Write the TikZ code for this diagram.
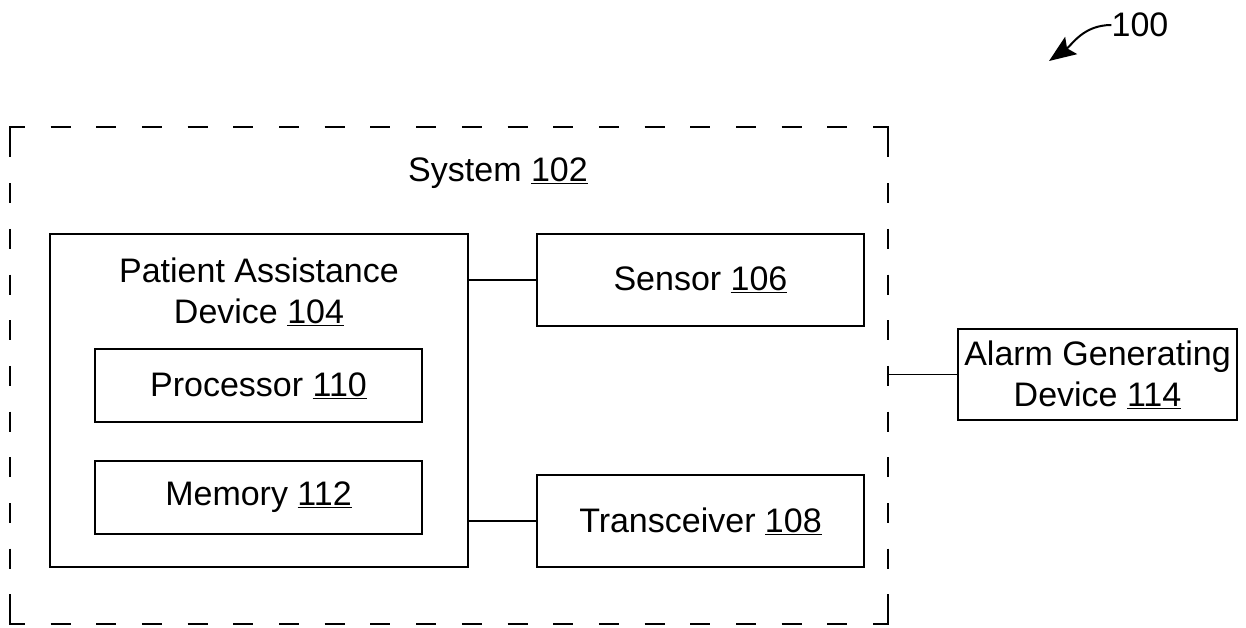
\documentclass[tikz,border=0pt]{standalone}
\usepackage{fontspec}
\setmainfont{Liberation Sans}
\usetikzlibrary{arrows.meta,positioning,calc}

\begin{document}
\begin{tikzpicture}[x=1pt,y=-1pt,
  every node/.style={font=\fontsize{34}{41}\selectfont, inner sep=0pt, align=center},
  blk/.style={draw, line width=1.5pt},
  sysline/.style={line width=2pt, dash pattern=on 20pt off 25.7pt},
  link/.style={line width=1.5pt}]
\useasboundingbox (0,0) rectangle (1246,628);
% outer system
\node[minimum width=878pt, minimum height=497pt] (sys) at (449,375.5) {};
\draw[sysline, dash phase=5pt] (sys.north west) -- (sys.north east);
\draw[sysline, dash phase=5pt] (sys.south west) -- (sys.south east);
\draw[sysline, dash phase=35.1pt] (sys.north west) -- (sys.south west);
\draw[sysline, dash phase=35.1pt] (sys.north east) -- (sys.south east);
\draw[line width=2pt] ($(sys.north west)+(0,30)$) -- (sys.north west) -- ++(15,0);
\draw[line width=2pt] ($(sys.north east)+(0,30)$) -- (sys.north east) -- ++(-15,0);
\draw[line width=2pt] ($(sys.south west)+(0,-30)$) -- (sys.south west) -- ++(15,0);
\draw[line width=2pt] ($(sys.south east)+(0,-30)$) -- (sys.south east) -- ++(-15,0);
\node (systxt) at (498,173) {System \underline{102}};
% patient assistance device
\node[blk, minimum width=418pt, minimum height=333pt] (pad) at (259,400.5) {};
\node (padtxt) at (259,292) {Patient Assistance\\Device \underline{104}};
\node[blk, minimum width=327pt, minimum height=73pt] (proc) at (258.5,385.5) {Processor \underline{110}};
\node[blk, minimum width=327pt, minimum height=73pt] (mem) at (258.5,497.5) {Memory \underline{112}};
% sensor and transceiver
\node[blk, minimum width=327pt, minimum height=92pt] (sens) at (700.5,280) {Sensor \underline{106}};
\node[blk, minimum width=327pt, minimum height=92pt] (trx) at (700.5,521) {Transceiver \underline{108}};
% alarm
\node[blk, minimum width=279pt, minimum height=91pt] (alarm) at (1097.5,374.5) {Alarm Generating\\Device \underline{114}};
% connectors
\draw[link] (pad.east |- sens) -- (sens.west);
\draw[link] (pad.east |- trx) -- (trx.west);
\draw[link] (sys.east |- alarm) -- (alarm.west);
% reference numeral
\node (ref) at (1140,25) {100};
\coordinate (reftip) at (1049,61);
\draw[line width=2pt, -{Stealth[length=27pt,width=21pt,inset=5pt]}] (ref.west) to[out=180,in=35] (reftip);
\end{tikzpicture}
\end{document}
